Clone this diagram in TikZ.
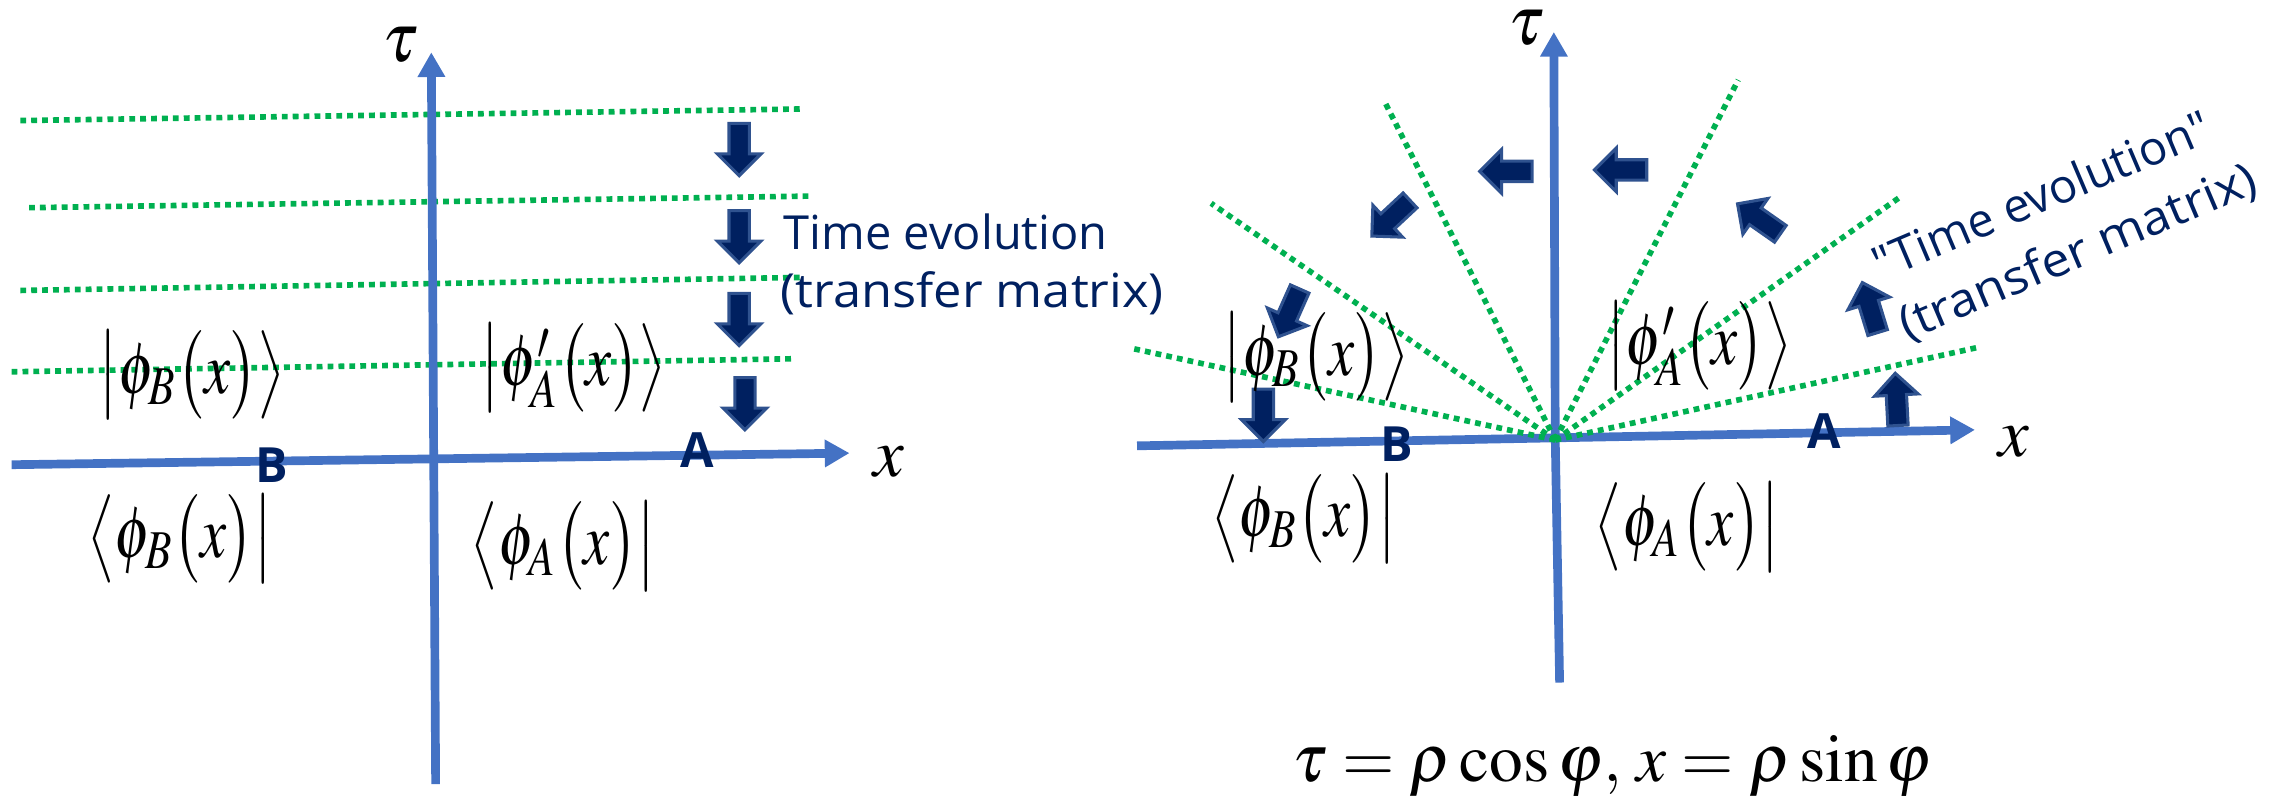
\documentclass[tikz,border=0pt]{standalone}
\usepackage{graphicx}
\usepackage{mathptmx}
\usepackage[no-math]{fontspec}
\newfontfamily\handfont{Open Sans}
\usetikzlibrary{arrows.meta}
\definecolor{axisblue}{HTML}{4472C4}
\definecolor{dotgreen}{HTML}{00B050}
\definecolor{navy}{HTML}{002060}
\definecolor{navyedge}{HTML}{2F528F}
\newcommand{\fitlbl}[1]{\resizebox*{1.28cm}{0.61cm}{$#1$}}
\tikzset{
  axis/.style={draw=axisblue, line width=1.7pt, -{Triangle[length=0.17cm,width=0.18cm]}},
  plainaxis/.style={draw=axisblue, line width=1.7pt},
  slice/.style={draw=dotgreen, line width=1.1pt, dash pattern=on 0.04cm off 0.035cm},
  blockarrow/.style={fill=navy, draw=navyedge, line width=0.6pt, line join=miter},
  barrow/.pic={\path[blockarrow] (0,-7) -- (21,-7) -- (21,-15) -- (36,0) -- (21,15) -- (21,7) -- (0,7) -- cycle;},
  mathlbl/.style={inner sep=0pt, font=\fontsize{14}{17}\selectfont},
  axlbl/.style={inner sep=0pt, font=\fontsize{13.5}{16}\selectfont},
  ptlbl/.style={inner sep=0pt, text=navy, font=\handfont\bfseries\fontsize{9.5}{11}\selectfont},
  note/.style={inner sep=0pt, text=navy, font=\handfont\fontsize{9.2}{11.4}\selectfont},
}
\begin{document}
\begin{tikzpicture}[x=0.01cm,y=-0.01cm]
\useasboundingbox (0,0) rectangle (1568,550);
% ---------------- left panel ----------------
\coordinate (Lvb) at (300,540);
\coordinate (Lvt) at (297,36);
\coordinate (Lhl) at (8,320);
\coordinate (Lhr) at (585,312);
\foreach \i/\xa/\ya/\xb/\yb in {1/14/83/553/75, 2/20/143/559/135, 3/14/200/553/191, 4/8/256/548/247}{
  \coordinate (Ls\i a) at (\xa,\ya);
  \coordinate (Ls\i b) at (\xb,\yb);
  \draw[slice] (Ls\i a) -- (Ls\i b);
}
\draw[axis] (Lvb) -- (Lvt);
\draw[axis] (Lhl) -- (Lhr);
\node[axlbl] (Ltau) at (276,31) {$\tau$};
\node[axlbl] (Lx) at (612,318) {$x$};
\node[ptlbl] (LB) at (187,320) {B};
\node[ptlbl] (LA) at (480,310) {A};
\pic[rotate=-90] at (509,85) {barrow};
\pic[rotate=-90] at (509,145) {barrow};
\pic[rotate=-90] at (509,202) {barrow};
\pic[rotate=-90] at (513,260) {barrow};
\node[note, anchor=base west] (Lt1) at (539,172) {Time evolution};
\node[note, anchor=base west] (Lt2) at (537,212) {\scalebox{1.077}[1]{(transfer matrix)}};
\node[mathlbl] (LketB) at (132,258) {\fitlbl{\bigl|\phi_B\bigl(x\bigr)\bigr\rangle}};
\node[mathlbl] (LketA) at (395,253) {\fitlbl{\bigl|\phi'_A\bigl(x\bigr)\bigr\rangle}};
\node[mathlbl] (LbraB) at (124,371) {\fitlbl{\bigl\langle\phi_B\bigl(x\bigr)\bigr|}};
\node[mathlbl] (LbraA) at (388,376) {\fitlbl{\bigl\langle\phi_A\bigl(x\bigr)\bigr|}};
% ---------------- right panel ----------------
\coordinate (O) at (1071,303);
\coordinate (Rvb) at (1074,470);
\coordinate (Rvt) at (1070,22);
\coordinate (Rhl) at (783,307);
\coordinate (Rhr) at (1360,296);
\draw[plainaxis] (Rvb) -- (O);
\draw[axis] (O) -- (Rvt);
\draw[axis] (Rhl) -- (Rhr);
\foreach \n/\xr/\yr in {1/780/240, 2/834/140, 3/954/71, 4/1197/55, 5/1308/136, 6/1363/239}{
  \coordinate (R\n) at (\xr,\yr);
  \draw[slice] (O) -- (R\n);
}
\node[axlbl] (Rtau) at (1051,19) {$\tau$};
\node[axlbl] (Rx) at (1387,304) {$x$};
\node[ptlbl] (RB) at (962,306) {B};
\node[ptlbl] (RA) at (1256,297) {A};
\pic[rotate=-90] at (870,268) {barrow};
\pic[rotate=-114] at (895,199) {barrow};
\pic[rotate=-137] at (971,138) {barrow};
\pic[rotate=180] at (1055,118) {barrow};
\pic[rotate=180] at (1134,117) {barrow};
\pic[rotate=145] at (1226,161) {barrow};
\pic[rotate=107] at (1293,229) {barrow};
\pic[rotate=93] at (1307,293) {barrow};
\node[mathlbl] (RketB) at (906,246) {\fitlbl{\bigl|\phi_B\bigl(x\bigr)\bigr\rangle}};
\node[mathlbl] (RketA) at (1170,238) {\fitlbl{\bigl|\phi'_A\bigl(x\bigr)\bigr\rangle}};
\node[mathlbl] (RbraB) at (898,357) {\fitlbl{\bigl\langle\phi_B\bigl(x\bigr)\bigr|}};
\node[mathlbl] (RbraA) at (1162,363) {\fitlbl{\bigl\langle\phi_A\bigl(x\bigr)\bigr|}};
\node[note, anchor=base west, rotate=23] (Rt1) at (1295,194) {"Time evolution"};
\node[note, anchor=base west, rotate=23] (Rt2) at (1313,235) {\scalebox{1.077}[1]{(transfer matrix)}};
\node[mathlbl] (eq) at (1110,528) {\resizebox{4.4cm}{!}{$\tau=\rho\cos\varphi,\, x=\rho\sin\varphi$}};
\end{tikzpicture}
\end{document}
